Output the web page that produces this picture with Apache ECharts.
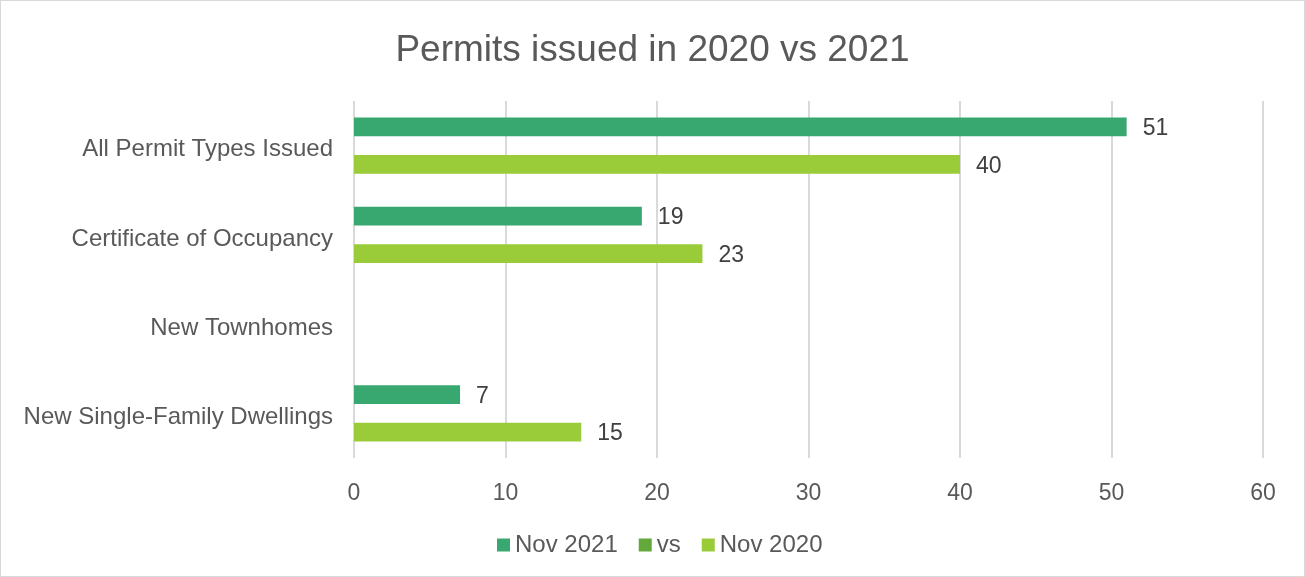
<!DOCTYPE html>
<html>
<head>
<meta charset="utf-8">
<script src="https://cdn.jsdelivr.net/npm/echarts@6/dist/echarts.min.js"></script>
<style>
html,body{margin:0;padding:0;background:#fff;}
#wrap{position:absolute;left:0;top:0;width:1303px;height:575px;border:1px solid #d9d9d9;}
#chart{width:1303px;height:575px;}
</style>
</head>
<body>
<div id="wrap"><div id="chart"></div></div>
<script>
const categories = ["New Single-Family Dwellings", "New Townhomes", "Certificate of Occupancy", "All Permit Types Issued"];
const nov2021 = [7, null, 19, 51];
const vs = [null, null, null, null];
const nov2020 = [15, null, 23, 40];
const xTicks = [0, 10, 20, 30, 40, 50, 60];

const FONT = "'Liberation Sans', Arial, sans-serif";
const chart = echarts.init(document.getElementById('chart'));
const lbl = {show: true, position: 'right', distance: 16, offset: [0, 2], color: '#404040', fontSize: 23, fontFamily: FONT};
chart.setOption({
  animation: false,
  title: {
    text: 'Permits issued in 2020 vs 2021',
    left: 'center', top: 26,
    textStyle: {color: '#595959', fontSize: 37, fontWeight: 'normal', fontFamily: FONT}
  },
  legend: {
    data: ['Nov 2021', 'vs', 'Nov 2020'],
    top: 527, left: 491,
    icon: 'rect', itemWidth: 13, itemHeight: 13, itemGap: 21,
    textStyle: {color: '#595959', fontSize: 24, fontFamily: FONT}
  },
  grid: {left: 353, right: 41, top: 100, bottom: 118},
  xAxis: {
    type: 'value', min: xTicks[0], max: xTicks[xTicks.length - 1], interval: 10,
    axisLine: {show: false}, axisTick: {show: false},
    splitLine: {lineStyle: {color: '#d9d9d9', width: 2}},
    axisLabel: {color: '#595959', fontSize: 23, fontFamily: FONT, margin: 24}
  },
  yAxis: {
    type: 'category', data: categories,
    axisLine: {show: false}, axisTick: {show: false},
    axisLabel: {
      margin: 21,
      formatter: v => '{c|' + v + '}',
      rich: {c: {color: '#595959', fontSize: 24, fontFamily: FONT, padding: [8, 0, 0, 0]}}
    }
  },
  series: [
    {name: 'Nov 2021', type: 'bar', data: nov2021, itemStyle: {color: '#38a870'}, label: lbl, barGap: '0%', barCategoryGap: '37%'},
    {name: 'vs', type: 'bar', data: vs, itemStyle: {color: '#62a83a'}, label: lbl},
    {name: 'Nov 2020', type: 'bar', data: nov2020, itemStyle: {color: '#9acb38'}, label: lbl}
  ]
});
</script>
</body>
</html>
